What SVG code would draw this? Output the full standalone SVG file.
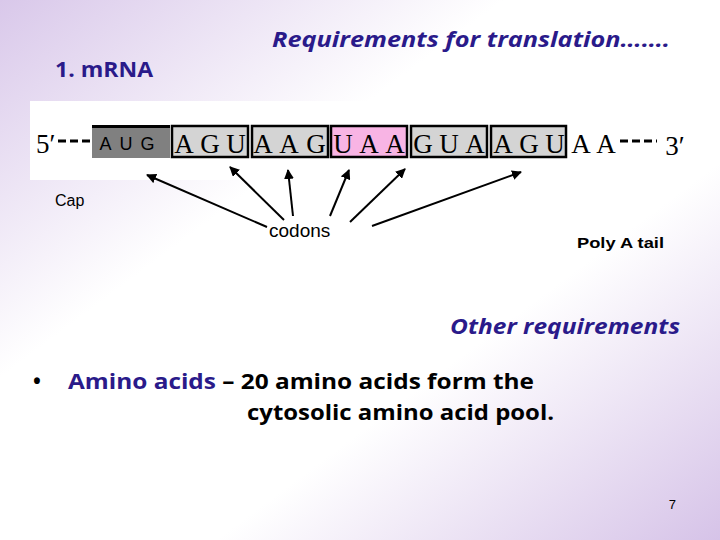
<svg xmlns="http://www.w3.org/2000/svg" width="720" height="540" viewBox="0 0 720 540">
<defs>
<linearGradient id="bg" x1="0" y1="0" x2="1" y2="1"><stop offset="0" stop-color="#d9c8ea"/><stop offset="0.35" stop-color="#ffffff"/><stop offset="0.65" stop-color="#ffffff"/><stop offset="1" stop-color="#d6c3e8"/></linearGradient>
<marker id="ah" viewBox="0 0 10 10" refX="9" refY="5" markerWidth="5" markerHeight="5" orient="auto"><path d="M0,0L10,5L0,10z" fill="#000"/></marker>
<style>
.cod{stroke:#000;stroke-width:2.5;fill:#d4d4d4}
.ser{font-family:"Liberation Serif",serif;font-size:27px;fill:#000}
.san{font-family:"Liberation Sans",sans-serif;fill:#000}
.cal{font-family:"Open Sans",sans-serif;font-weight:bold}
.ln{stroke:#000;stroke-width:2;marker-end:url(#ah)}
</style>
</defs>
<rect width="720" height="540" fill="url(#bg)"/>
<text x="272" y="47" class="cal" font-size="22" font-style="italic" fill="#2a1a8a" textLength="398" lengthAdjust="spacingAndGlyphs">Requirements for translation…….</text>
<text x="55" y="77" class="cal" font-size="21" fill="#2a1a8a" textLength="98" lengthAdjust="spacingAndGlyphs">1. mRNA</text>
<g id="mrna">
<rect x="30" y="101" width="666" height="79" fill="#fff"/>
<text x="36" y="153" class="ser">5′</text>
<path d="M58,141H92M620,141H657" stroke="#000" stroke-width="3" stroke-dasharray="8,4"/>
<rect x="92" y="128" width="78" height="30" fill="#808080"/>
<rect x="92" y="125" width="78" height="3" fill="#000"/>
<text x="131" y="150" class="san" font-size="18" text-anchor="middle" letter-spacing="8">AUG</text>
<rect x="172" y="126" width="76" height="31" class="cod"/>
<rect x="252" y="126" width="76" height="31" class="cod"/>
<rect x="331" y="126" width="76" height="31" fill="#f8b4e4" stroke="#000" stroke-width="2.5"/>
<rect x="411" y="126" width="76" height="31" class="cod"/>
<rect x="491" y="126" width="75" height="31" class="cod"/>
<g class="ser" text-anchor="middle">
<text x="184" y="153">A</text><text x="210" y="153">G</text><text x="236" y="153">U</text>
<text x="263" y="153">A</text><text x="289" y="153">A</text><text x="316" y="153">G</text>
<text x="343" y="153">U</text><text x="369" y="153">A</text><text x="395" y="153">A</text>
<text x="423" y="153">G</text><text x="449" y="153">U</text><text x="475" y="153">A</text>
<text x="503" y="153">A</text><text x="529" y="153">G</text><text x="555" y="153">U</text>
<text x="581" y="153">A</text><text x="606" y="153">A</text>
<text x="675" y="155">3′</text>
</g>
</g>
<g id="connectors">
<line x1="267" y1="227" x2="147" y2="175" class="ln"/>
<line x1="284" y1="220" x2="230" y2="167" class="ln"/>
<line x1="293" y1="216" x2="288" y2="170" class="ln"/>
<line x1="330" y1="216" x2="349" y2="170" class="ln"/>
<line x1="350" y1="222" x2="405" y2="169" class="ln"/>
<line x1="372" y1="226" x2="521" y2="172" class="ln"/>
</g>
<text x="55" y="206" class="san" font-size="16">Cap</text>
<text x="269" y="237" class="san" font-size="19">codons</text>
<text x="577" y="248" class="san" font-size="15" font-weight="bold" textLength="87" lengthAdjust="spacingAndGlyphs">Poly A tail</text>
<text x="450" y="334" class="cal" font-size="22" font-style="italic" fill="#2a1a8a" textLength="230" lengthAdjust="spacingAndGlyphs">Other requirements</text>
<text x="33" y="389" class="cal" font-size="21" fill="#000">•</text>
<text x="68" y="389" class="cal" font-size="22" textLength="466" lengthAdjust="spacingAndGlyphs"><tspan fill="#2a1a8a">Amino acids</tspan><tspan fill="#000"> –  20 amino acids form the</tspan></text>
<text x="247" y="420" class="cal" font-size="22" fill="#000" textLength="307" lengthAdjust="spacingAndGlyphs">cytosolic amino acid pool.</text>
<text x="676" y="509" class="san" font-size="13" text-anchor="end">7</text>
</svg>
